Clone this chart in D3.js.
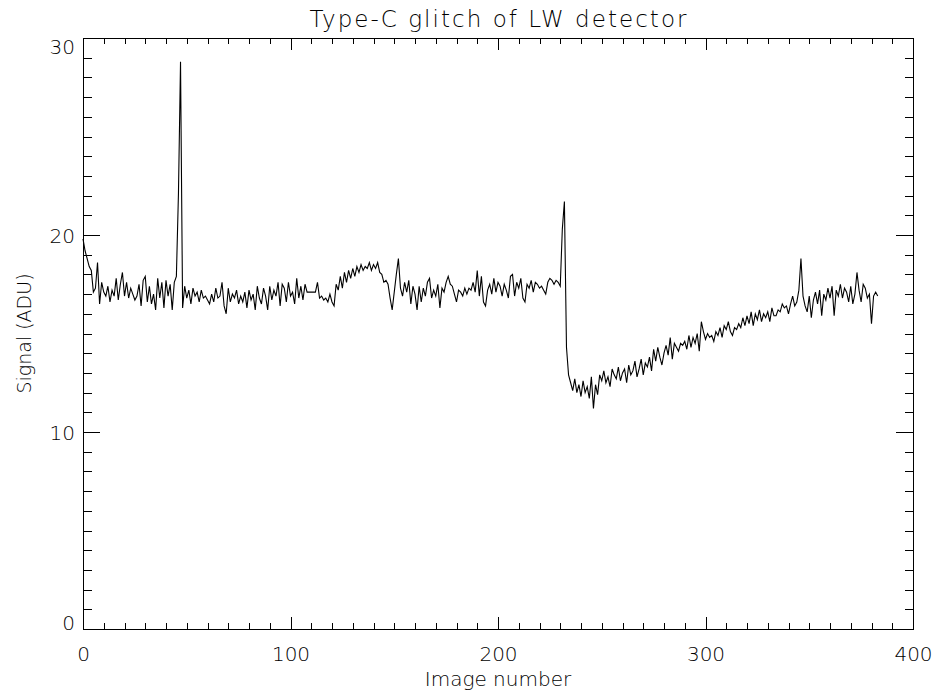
<!DOCTYPE html>
<html>
<head>
<meta charset="utf-8">
<script src="https://cdn.jsdelivr.net/npm/d3@7"></script>
<style>
    body { margin: 0; background: #fff; }
    svg text { font-family: "DejaVu Sans", sans-serif; font-weight: 200; fill: #000; }
</style>
</head>
<body>
<div id="graph"></div>
<script>
// signal per image (ADU), image number = index
const signal = [
    19.8, 19.2, 18.8, 18.4, 18.2, 17.1, 17.3, 18.6, 16.5, 17.6,
    17.1, 16.9, 17.4, 16.6, 17.2, 16.9, 17.8, 16.7, 17.5, 18.1,
    16.9, 17.6, 16.8, 17.3, 17.0, 16.7, 16.9, 17.5, 16.4, 17.7,
    17.9, 16.6, 17.4, 16.5, 17.0, 16.2, 17.8, 16.8, 17.6, 16.3,
    17.7, 16.9, 17.5, 16.2, 17.6, 17.9, 22.1, 28.8, 16.3, 17.4,
    16.8, 17.2, 16.5, 17.3, 16.9, 17.1, 16.6, 17.2, 16.8, 16.9,
    16.7, 16.5, 17.0, 16.6, 17.3, 16.8, 16.9, 17.6, 16.4, 16.0,
    17.3, 16.6, 17.0, 16.8, 17.2, 16.5, 16.9, 16.6, 17.1, 16.3,
    17.2, 16.7, 17.0, 16.2, 17.4, 16.8, 16.5, 17.3, 16.9, 16.2,
    17.4, 16.7, 17.2, 16.9, 17.6, 16.4, 17.5, 17.3, 16.6, 17.6,
    16.9, 17.1, 16.5, 17.8, 16.8, 17.4, 16.7, 17.5, 17.1, 17.1,
    17.1, 17.1, 17.1, 17.6, 16.8, 16.9, 16.7, 16.8, 16.6, 17.0,
    16.6, 16.4, 17.5, 17.2, 17.9, 17.3, 18.1, 17.6, 18.2, 17.8,
    18.3, 17.9, 18.4, 18.1, 18.5, 18.2, 18.4, 18.3, 18.6, 18.2,
    18.5, 18.3, 18.6, 18.1, 18.0, 17.6, 17.7, 17.5, 16.8, 16.2,
    17.1, 18.0, 18.8, 17.3, 16.9, 17.6, 17.1, 17.7, 16.5, 17.4,
    17.0, 16.2, 17.4, 16.6, 17.3, 16.9, 17.6, 17.8, 16.8, 17.2,
    16.9, 17.5, 16.3, 17.3, 17.1, 17.6, 17.9, 17.5, 17.4, 17.0,
    16.6, 17.2, 17.1, 16.9, 17.3, 17.0, 17.3, 17.2, 17.6, 17.1,
    18.2, 16.9, 17.9, 16.6, 16.4, 17.2, 17.5, 17.0, 17.8, 17.1,
    17.6, 17.4, 16.9, 17.5, 17.2, 16.8, 17.9, 18.0, 16.9, 17.6,
    17.3, 17.8, 16.8, 16.6, 17.5, 17.3, 17.7, 17.1, 17.6, 17.5,
    17.3, 17.4, 17.2, 17.0, 17.6, 17.8, 17.7, 17.5, 17.7, 17.6,
    17.4, 20.3, 21.7, 14.3, 12.9, 12.5, 12.1, 12.7, 12.0, 12.4,
    11.8, 12.6, 12.0, 12.3, 11.7, 12.8, 11.2, 12.4, 11.9, 12.9,
    12.6, 13.1, 12.5, 12.8, 12.3, 13.2, 12.9, 12.7, 13.3, 12.6,
    13.0, 13.2, 12.5, 13.4, 12.9, 13.1, 13.6, 12.8, 13.2, 13.7,
    12.9, 13.5, 13.3, 13.8, 13.1, 14.2, 13.6, 14.3, 13.8, 13.4,
    14.0, 14.4, 13.9, 14.8, 13.7, 14.5, 14.3, 14.1, 14.5, 14.4,
    14.6, 14.2, 14.9, 14.3, 14.8, 14.5, 15.0, 14.1, 15.6, 15.1,
    14.7, 15.0, 14.8, 14.9, 14.6, 15.1, 14.9, 15.3, 14.8, 15.4,
    15.2, 15.6, 15.1, 14.9, 15.3, 15.2, 15.5, 15.3, 15.8, 15.4,
    15.9, 15.5, 16.1, 15.4, 16.0, 15.7, 16.2, 15.6, 16.0, 15.8,
    16.1, 15.6, 16.3, 15.9, 15.9, 16.2, 16.1, 16.5, 16.3, 16.4,
    16.0, 16.5, 16.9, 16.4, 16.6, 17.2, 18.8, 16.9, 16.4, 16.1,
    16.9, 15.8, 16.7, 17.1, 16.5, 17.2, 15.9, 17.0, 16.7, 17.3,
    16.8, 17.4, 15.9, 17.2, 16.9, 17.5, 16.8, 17.3, 17.1, 16.6,
    17.4, 16.5, 17.0, 18.1, 17.2, 16.6, 17.5, 17.3, 16.8, 17.0,
    15.5, 16.9, 17.1, 16.9
];

const xMajor = [0, 100, 200, 300, 400];
const yMajor = [0, 10, 20, 30];
const xMinor = d3.range(0, 401, 10);
const yMinor = d3.range(0, 31, 1);

const titleText = "Type-C glitch of LW detector";
const xLabel = "Image number";
const yLabel = "Signal (ADU)";

const width = 935,
    height = 692,
    margin = {left: 83, right: 22, top: 38, bottom: 63};

const chartWidth = width - margin.left - margin.right;
const chartHeight = height - margin.top - margin.bottom;

const svg = d3.select("#graph")
    .append("svg")
    .attr("width", width)
    .attr("height", height);

svg.append("rect")
    .attr("width", width)
    .attr("height", height)
    .attr("fill", "#fff");

const xScale = d3.scaleLinear().domain([0, 400]).range([0, chartWidth]);
const yScale = d3.scaleLinear().domain([0, 30]).range([chartHeight, 0]);

const g = svg.append("g")
    .attr("transform", "translate(" + margin.left + "," + margin.top + ")");

// tick lengths (inward), IDL style
const xMajLen = 12, xMinLen = 6;
const yMajLen = 17, yMinLen = 8.5;

function addAxis(axis, transform) {
    const a = g.append("g")
        .attr("class", "axis")
        .attr("transform", transform)
        .call(axis);
    a.selectAll("line, path").attr("stroke", "#000").attr("shape-rendering", "crispEdges");
    return a;
}

// bottom
addAxis(d3.axisBottom(xScale).tickValues(xMinor).tickSize(-xMinLen).tickFormat(""),
    "translate(0," + chartHeight + ")");
const bottom = addAxis(d3.axisBottom(xScale).tickValues(xMajor).tickSize(-xMajLen).tickPadding(18).tickFormat(d3.format("d")),
    "translate(0," + chartHeight + ")");
bottom.selectAll("text").attr("font-size", 20).attr("font-family", null);

// top
addAxis(d3.axisTop(xScale).tickValues(xMinor).tickSize(-xMinLen).tickFormat(""), "translate(0,0)");
addAxis(d3.axisTop(xScale).tickValues(xMajor).tickSize(-xMajLen).tickFormat(""), "translate(0,0)");

// left
addAxis(d3.axisLeft(yScale).tickValues(yMinor).tickSize(-yMinLen).tickFormat(""), "translate(0,0)");
const left = addAxis(d3.axisLeft(yScale).tickValues(yMajor).tickSize(-yMajLen).tickPadding(8).tickFormat(d3.format("d")),
    "translate(0,0)");
// keep labels inside the plot's vertical range
left.selectAll("text")
    .attr("font-size", 20)
    .attr("font-family", null)
    .attr("dy", "0.36em")
    .attr("y", (d) => {
        const ty = yScale(d);
        const c = Math.max(8, Math.min(chartHeight - 7, ty));
        return c - ty;
    });

// right
addAxis(d3.axisRight(yScale).tickValues(yMinor).tickSize(-yMinLen).tickFormat(""),
    "translate(" + chartWidth + ",0)");
addAxis(d3.axisRight(yScale).tickValues(yMajor).tickSize(-yMajLen).tickFormat(""),
    "translate(" + chartWidth + ",0)");

g.selectAll(".axis path.domain").attr("stroke-width", 1.2);

// the signal line
const line = d3.line()
    .x((d, i) => xScale(i))
    .y((d) => yScale(d));

g.append("path")
    .datum(signal)
    .attr("fill", "none")
    .attr("stroke", "#000")
    .attr("stroke-width", 1.1)
    .attr("stroke-linejoin", "miter")
    .attr("d", line);

// titles
svg.append("text")
    .attr("x", margin.left + chartWidth / 2)
    .attr("y", 27)
    .attr("text-anchor", "middle")
    .attr("font-size", 23)
    .attr("textLength", 377)
    .text(titleText);

svg.append("text")
    .attr("x", margin.left + chartWidth / 2)
    .attr("y", 686)
    .attr("text-anchor", "middle")
    .attr("font-size", 20)
    .text(xLabel);

svg.append("text")
    .attr("transform", "translate(31," + (margin.top + chartHeight / 2) + ") rotate(-90)")
    .attr("text-anchor", "middle")
    .attr("font-size", 19)
    .text(yLabel);
</script>
</body>
</html>
